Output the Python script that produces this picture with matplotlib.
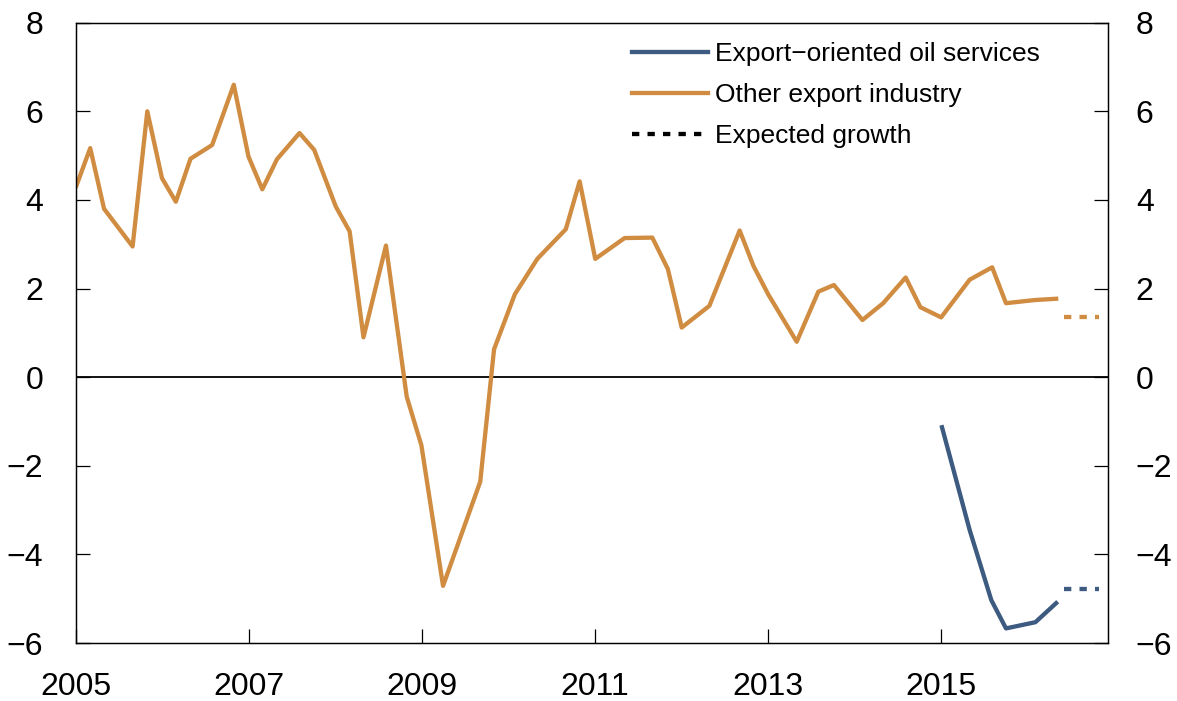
import matplotlib
matplotlib.use("Agg")
import matplotlib.pyplot as plt

plt.rcParams['font.family'] = ['Liberation Sans', 'DejaVu Sans']

# Other export industry (survey rounds, fractional year)
other_x = [2005.00, 2005.16, 2005.32, 2005.65, 2005.82, 2005.99, 2006.15, 2006.32,
           2006.57, 2006.82, 2006.99, 2007.15, 2007.32, 2007.58, 2007.75, 2008.00,
           2008.16, 2008.32, 2008.58, 2008.82, 2008.99, 2009.24, 2009.67, 2009.83,
           2010.07, 2010.33, 2010.66, 2010.82, 2011.00, 2011.34, 2011.66, 2011.84,
           2012.00, 2012.32, 2012.67, 2012.83, 2013.00, 2013.33, 2013.58, 2013.76,
           2014.09, 2014.33, 2014.59, 2014.76, 2015.00, 2015.33, 2015.59, 2015.75,
           2016.08, 2016.33]
other_y = [4.32, 5.17, 3.80, 2.95, 6.00, 4.49, 3.96, 4.93,
           5.24, 6.60, 4.98, 4.24, 4.92, 5.51, 5.13, 3.85,
           3.29, 0.90, 2.97, -0.44, -1.54, -4.71, -2.36, 0.63,
           1.87, 2.67, 3.34, 4.42, 2.67, 3.14, 3.15, 2.44,
           1.12, 1.61, 3.31, 2.51, 1.87, 0.80, 1.93, 2.08,
           1.29, 1.67, 2.25, 1.58, 1.35, 2.20, 2.48, 1.67,
           1.74, 1.77]

# Export-oriented oil services
oil_x = [2015.01, 2015.33, 2015.58, 2015.75, 2016.09, 2016.33]
oil_y = [-1.13, -3.45, -5.03, -5.67, -5.53, -5.10]

# Expected growth
exp_x = [2016.42, 2016.83]
exp_other = [1.35, 1.35]
exp_oil = [-4.78, -4.78]

yticks = list(range(-6, 9, 2))
xticks = [2005, 2007, 2009, 2011, 2013, 2015]

orange = '#D08C40'
blue = '#3D5A80'
dash = (0, (1.7, 1.9))
lw = 3.1

fig = plt.figure(figsize=(11.77, 7.01), dpi=100)
ax = fig.add_axes([0.0649, 0.0827, 0.8765, 0.8849])

ax.axhline(0, color='black', lw=1.3, zorder=1)
ax.plot(oil_x, oil_y, color=blue, lw=lw, label='Export\u2212oriented oil services')
ax.plot(other_x, other_y, color=orange, lw=lw, label='Other export industry')
ax.plot(exp_x, exp_other, color=orange, lw=lw, linestyle=dash, dash_capstyle='butt')
ax.plot(exp_x, exp_oil, color=blue, lw=lw, linestyle=dash, dash_capstyle='butt')
ax.plot([], [], color='black', lw=lw, linestyle=dash, dash_capstyle='butt',
        label='Expected growth')

ax.set_xlim(2005, 2016.93)
ax.set_ylim(-6, 8)
ax.set_xticks(xticks)
ax.set_yticks(yticks)
ax.tick_params(axis='x', direction='in', length=10, width=0.9, labelsize=23, pad=21)
ax.tick_params(axis='y', direction='in', length=10, width=0.9, labelsize=23, pad=24)

# right-hand axis with the same scale
ax2 = ax.twinx()
ax2.set_ylim(-6, 8)
ax2.set_yticks(yticks)
ax2.tick_params(axis='y', direction='in', length=10, width=0.9, labelsize=23, pad=20)

for a in (ax, ax2):
    for s in a.spines.values():
        s.set_linewidth(0.9)

ax.legend(loc='upper right', bbox_to_anchor=(0.957, 1.007), frameon=False,
          fontsize=19, handlelength=2.88, handletextpad=0.27,
          labelspacing=0.64)

fig.savefig('out.png', dpi=100)
